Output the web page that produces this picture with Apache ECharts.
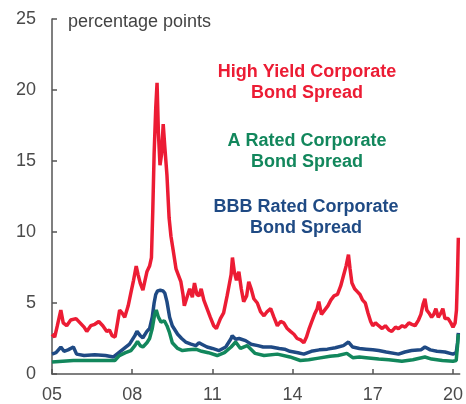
<!DOCTYPE html>
<html>
<head>
<meta charset="utf-8">
<script src="https://cdn.jsdelivr.net/npm/echarts@6/dist/echarts.min.js"></script>
<style>
    html, body { margin: 0; padding: 0; background: #fff; }
    #spreads { width: 466px; height: 404px; }
</style>
</head>
<body>
<div id="spreads"></div>
<script>
// 高收益 (red)
var hyYears = [2005.00, 2005.10, 2005.20, 2005.33, 2005.42, 2005.55, 2005.70, 2005.90, 2006.05, 2006.20,
    2006.30, 2006.45, 2006.60, 2006.75, 2006.90, 2007.05, 2007.15, 2007.25, 2007.36, 2007.45,
    2007.53, 2007.62, 2007.72, 2007.85, 2007.96, 2008.05, 2008.15, 2008.22, 2008.30, 2008.40,
    2008.48, 2008.55, 2008.65, 2008.72, 2008.77, 2008.82, 2008.88, 2008.93, 2008.98, 2009.04,
    2009.10, 2009.16, 2009.22, 2009.30, 2009.38, 2009.45, 2009.55, 2009.64, 2009.72, 2009.82,
    2009.90, 2009.95, 2010.05, 2010.15, 2010.25, 2010.33, 2010.42, 2010.50, 2010.58, 2010.68,
    2010.80, 2010.92, 2011.05, 2011.15, 2011.30, 2011.42, 2011.55, 2011.62, 2011.70, 2011.75,
    2011.82, 2011.90, 2011.99, 2012.08, 2012.17, 2012.28, 2012.36, 2012.45, 2012.55, 2012.68,
    2012.80, 2012.93, 2013.05, 2013.18, 2013.30, 2013.43, 2013.55, 2013.67, 2013.80, 2013.92,
    2014.05, 2014.17, 2014.30, 2014.42, 2014.52, 2014.62, 2014.72, 2014.82, 2014.92, 2014.98,
    2015.08, 2015.20, 2015.32, 2015.43, 2015.55, 2015.68, 2015.80, 2015.90, 2016.00, 2016.09,
    2016.15, 2016.22, 2016.32, 2016.42, 2016.52, 2016.62, 2016.72, 2016.82, 2016.92, 2017.00,
    2017.10, 2017.22, 2017.35, 2017.47, 2017.60, 2017.71, 2017.85, 2017.96, 2018.10, 2018.21,
    2018.35, 2018.46, 2018.58, 2018.71, 2018.80, 2018.88, 2018.95, 2019.02, 2019.10, 2019.20,
    2019.28, 2019.36, 2019.45, 2019.55, 2019.62, 2019.70, 2019.82, 2019.92, 2020.00, 2020.08,
    2020.13, 2020.17, 2020.20];
var hyValues = [2.8, 2.6, 3.4, 4.5, 3.6, 3.4, 3.8, 3.9, 3.6, 3.3,
    3.0, 3.4, 3.5, 3.7, 3.4, 3.0, 3.1, 2.7, 2.6, 3.6,
    4.5, 4.3, 4.0, 4.8, 5.8, 6.6, 7.6, 7.0, 6.4, 5.9,
    6.6, 7.2, 7.6, 8.2, 11.5, 15.5, 18.7, 20.5, 17.0, 14.7,
    15.5, 17.6, 16.0, 14.0, 11.0, 9.7, 8.5, 7.4, 7.0, 6.5,
    5.6, 4.8, 5.4, 6.0, 5.4, 6.4, 5.6, 5.5, 6.0, 5.2,
    4.6, 4.0, 3.4, 3.2, 3.9, 4.3, 5.5, 6.2, 7.0, 8.2,
    7.2, 6.6, 7.2, 6.0, 5.1, 5.5, 6.5, 6.0, 5.3, 5.0,
    4.4, 4.1, 4.4, 4.6, 4.0, 3.4, 3.7, 3.6, 3.2, 3.0,
    2.8, 2.5, 2.4, 2.2, 2.6, 3.2, 3.7, 4.2, 4.6, 5.1,
    4.2, 4.5, 4.8, 5.2, 5.5, 5.6, 6.2, 6.9, 7.6, 8.4,
    7.4, 6.4, 6.0, 5.8, 5.6, 5.2, 5.0, 4.3, 3.7, 3.4,
    3.6, 3.4, 3.2, 3.4, 3.1, 3.0, 3.3, 3.2, 3.4, 3.3,
    3.6, 3.5, 3.4, 3.8, 4.2, 4.9, 5.3, 4.5, 4.3, 4.0,
    4.2, 4.6, 4.0, 4.3, 4.6, 3.9, 3.9, 3.6, 3.3, 3.6,
    4.5, 7.0, 9.6];

// BBB (blue)
var bbbYears = [2005.00, 2005.15, 2005.33, 2005.45, 2005.60, 2005.80, 2005.92, 2006.20, 2006.60, 2007.00,
    2007.30, 2007.50, 2007.70, 2007.90, 2008.10, 2008.18, 2008.30, 2008.40, 2008.55, 2008.65,
    2008.75, 2008.82, 2008.88, 2008.95, 2009.05, 2009.15, 2009.22, 2009.30, 2009.40, 2009.50,
    2009.70, 2009.85, 2010.00, 2010.20, 2010.38, 2010.50, 2010.60, 2010.80, 2011.00, 2011.25,
    2011.50, 2011.70, 2011.74, 2011.87, 2012.00, 2012.24, 2012.45, 2012.70, 2012.90, 2013.20,
    2013.50, 2013.70, 2013.90, 2014.20, 2014.42, 2014.70, 2015.00, 2015.30, 2015.60, 2015.90,
    2016.09, 2016.25, 2016.50, 2016.75, 2017.00, 2017.22, 2017.50, 2017.96, 2018.20, 2018.45,
    2018.80, 2018.95, 2019.15, 2019.40, 2019.70, 2020.00, 2020.12, 2020.17, 2020.20];
var bbbValues = [1.4, 1.5, 1.9, 1.6, 1.7, 1.9, 1.4, 1.3, 1.35, 1.3,
    1.2, 1.5, 1.8, 2.1, 2.7, 3.0, 2.7, 2.55, 3.0, 3.2,
    4.0, 5.0, 5.6, 5.85, 5.9, 5.85, 5.7, 5.1, 4.0, 3.4,
    2.8, 2.5, 2.25, 2.1, 2.0, 2.2, 2.1, 1.9, 1.8, 1.65,
    1.9, 2.5, 2.7, 2.45, 2.5, 2.35, 2.1, 2.0, 1.9, 1.9,
    1.8, 1.75, 1.6, 1.5, 1.4, 1.6, 1.7, 1.75, 1.85, 2.0,
    2.25, 1.9, 1.8, 1.75, 1.7, 1.65, 1.55, 1.4, 1.55, 1.65,
    1.7, 1.9, 1.7, 1.6, 1.55, 1.4, 1.5, 2.2, 2.9];

// A (green)
var aYears = [2005.00, 2005.40, 2005.80, 2006.50, 2007.00, 2007.35, 2007.52, 2007.75, 2007.95, 2008.10,
    2008.20, 2008.30, 2008.40, 2008.55, 2008.65, 2008.75, 2008.84, 2008.90, 2008.98, 2009.08,
    2009.20, 2009.30, 2009.39, 2009.50, 2009.70, 2009.88, 2010.10, 2010.38, 2010.60, 2010.85,
    2011.18, 2011.45, 2011.70, 2011.87, 2012.05, 2012.30, 2012.60, 2012.93, 2013.43, 2013.90,
    2014.29, 2014.60, 2014.92, 2015.40, 2015.70, 2016.03, 2016.25, 2016.50, 2016.75, 2017.22,
    2017.60, 2018.09, 2018.50, 2018.95, 2019.20, 2019.60, 2020.00, 2020.12, 2020.17, 2020.20];
var aValues = [0.85, 0.9, 0.95, 0.95, 0.95, 0.95, 1.3, 1.5, 1.65, 2.0,
    2.3, 2.0, 1.9, 2.2, 2.5, 3.2, 4.2, 4.5, 4.0, 3.65,
    3.75, 3.4, 2.95, 2.2, 1.8, 1.65, 1.7, 1.75, 1.6, 1.5,
    1.3, 1.5, 1.9, 2.25, 1.8, 2.0, 1.45, 1.3, 1.4, 1.2,
    0.95, 1.0, 1.1, 1.25, 1.3, 1.45, 1.15, 1.2, 1.15, 1.05,
    1.0, 0.9, 1.0, 1.2, 1.05, 0.95, 0.9, 0.95, 2.0, 2.8];

// x轴刻度 (years since 2005)
var xTicks = [0, 3, 6, 9, 12, 15];

var START_YEAR = 2005;

function toPairs(years, values) {
    var out = [];
    for (var i = 0; i < years.length; i++) {
        out.push([years[i] - START_YEAR, values[i]]);
    }
    return out;
}

var myChart = echarts.init(document.getElementById('spreads'));

var axisColor = '#555555';
var labelColor = '#4a4a4a';
var font = 'Liberation Sans, Arial, sans-serif';

var option = {
    animation: false,
    grid: {
        left: 52,
        right: 4,
        top: 19,
        bottom: 30
    },
    xAxis: {
        type: 'value',
        min: 0,
        max: 15.25,
        axisLine: { lineStyle: { color: axisColor, width: 1.5 } },
        axisTick: {
            inside: true,
            length: 5,
            customValues: xTicks,
            lineStyle: { color: axisColor, width: 1.5 }
        },
        axisLabel: {
            customValues: xTicks,
            margin: 12,
            color: labelColor,
            fontSize: 18,
            fontFamily: font,
            formatter: function (v) {
                var y = Math.round(v) + 5;
                return (y < 10 ? '0' : '') + y;
            }
        },
        splitLine: { show: false }
    },
    yAxis: {
        type: 'value',
        min: 0,
        max: 25,
        interval: 5,
        axisLine: { show: true, lineStyle: { color: axisColor, width: 1.5 } },
        axisTick: {
            show: true,
            inside: true,
            length: 5,
            lineStyle: { color: axisColor, width: 1.5 }
        },
        axisLabel: {
            margin: 16,
            color: labelColor,
            fontSize: 18,
            fontFamily: font
        },
        splitLine: { show: false }
    },
    graphic: [
        {
            type: 'text', x: 68, y: 22,
            style: { text: 'percentage points', fill: '#444444', font: '18px ' + font, verticalAlign: 'middle' }
        },
        {
            type: 'text', x: 307, y: 83,
            style: {
                text: 'High Yield Corporate\nBond Spread', fill: '#ec1c34',
                font: 'bold 18px ' + font, align: 'center', verticalAlign: 'middle', lineHeight: 21
            }
        },
        {
            type: 'text', x: 307, y: 152,
            style: {
                text: 'A Rated Corporate\nBond Spread', fill: '#12875c',
                font: 'bold 18px ' + font, align: 'center', verticalAlign: 'middle', lineHeight: 21
            }
        },
        {
            type: 'text', x: 306, y: 218,
            style: {
                text: 'BBB Rated Corporate\nBond Spread', fill: '#1f4a84',
                font: 'bold 18px ' + font, align: 'center', verticalAlign: 'middle', lineHeight: 21
            }
        }
    ],
    series: [
        {
            name: 'BBB',
            type: 'line',
            data: toPairs(bbbYears, bbbValues),
            showSymbol: false,
            lineStyle: { color: '#1f4a84', width: 3.5 }
        },
        {
            name: 'A',
            type: 'line',
            data: toPairs(aYears, aValues),
            showSymbol: false,
            lineStyle: { color: '#12875c', width: 3.5 }
        },
        {
            name: 'High Yield',
            type: 'line',
            data: toPairs(hyYears, hyValues),
            showSymbol: false,
            lineStyle: { color: '#ec1c34', width: 3.5 }
        }
    ]
};
myChart.setOption(option);
</script>
</body>
</html>
